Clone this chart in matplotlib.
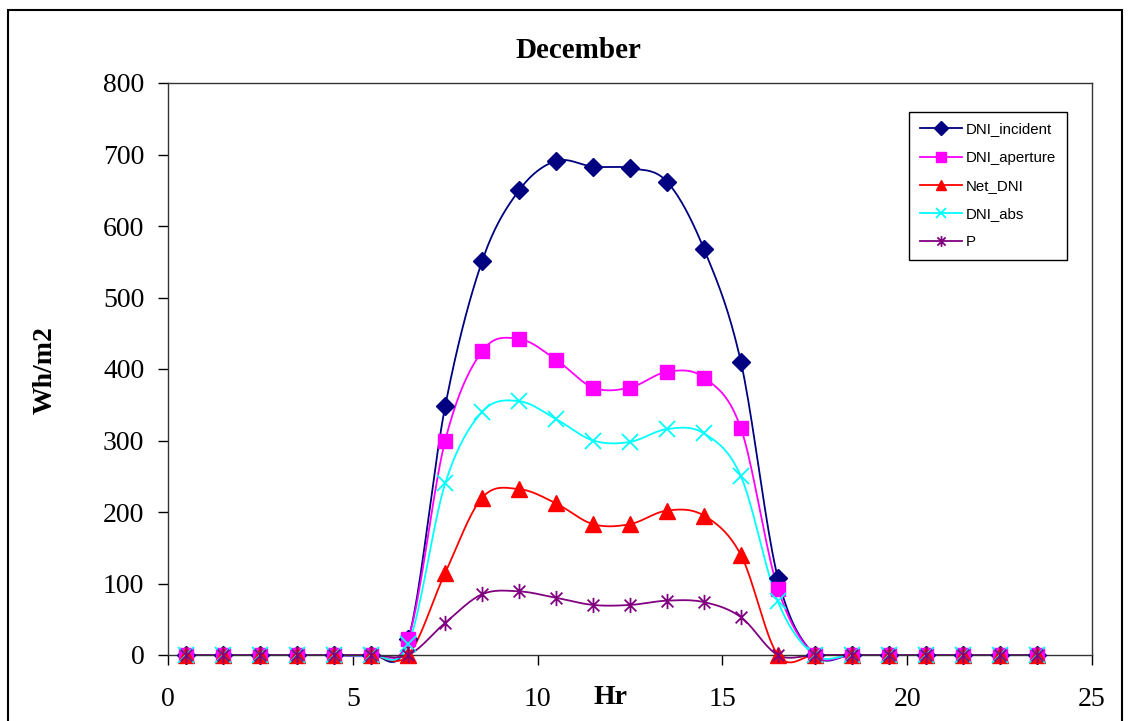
import numpy as np
import matplotlib.pyplot as plt
from matplotlib.path import Path
from matplotlib.lines import Line2D
from matplotlib.patches import Rectangle

# Hourly values (hour midpoints)
hours = np.arange(0.5, 24, 1.0)
dni_incident = [0, 0, 0, 0, 0, 0, 22, 348, 551, 650, 691, 683, 681, 662, 568, 410, 108, 0, 0, 0, 0, 0, 0, 0]
dni_aperture = [0, 0, 0, 0, 0, 0, 23, 300, 425, 442, 413, 374, 374, 396, 388, 317, 93, 0, 0, 0, 0, 0, 0, 0]
net_dni      = [0, 0, 0, 0, 0, 0, 0, 115, 220, 232, 212, 183, 183, 202, 195, 140, 0, 0, 0, 0, 0, 0, 0, 0]
dni_abs      = [0, 0, 0, 0, 0, 0, 15, 240, 340, 355, 330, 300, 298, 316, 310, 250, 75, 0, 0, 0, 0, 0, 0, 0]
p_out        = [0, 0, 0, 0, 0, 0, 0, 45, 85, 89, 80, 70, 70, 76, 74, 53, 0, 0, 0, 0, 0, 0, 0, 0]

series_names = ['DNI_incident', 'DNI_aperture', 'Net_DNI', 'DNI_abs', 'P']


def smooth(x, y, n=20):
    # Excel-like smoothed line (Catmull-Rom through every point)
    x = np.asarray(x, float)
    y = np.asarray(y, float)
    px = np.concatenate([[x[0]], x, [x[-1]]])
    py = np.concatenate([[y[0]], y, [y[-1]]])
    xs, ys = [], []
    t = np.linspace(0, 1, n, endpoint=False)
    for i in range(1, len(px) - 2):
        for arr, out in ((px, xs), (py, ys)):
            p0, p1, p2, p3 = arr[i - 1], arr[i], arr[i + 1], arr[i + 2]
            c1 = p1 + (p2 - p0) / 6
            c2 = p2 - (p3 - p1) / 6
            out.extend((1 - t) ** 3 * p1 + 3 * (1 - t) ** 2 * t * c1 + 3 * (1 - t) * t ** 2 * c2 + t ** 3 * p2)
    xs.append(x[-1])
    ys.append(y[-1])
    return np.array(xs), np.array(ys)


# asterisk marker: x plus vertical bar
star = Path([(-1, -1), (1, 1), (-1, 1), (1, -1), (0, -1.3), (0, 1.3)],
            [Path.MOVETO, Path.LINETO, Path.MOVETO, Path.LINETO, Path.MOVETO, Path.LINETO])

styles = [
    dict(color='#000080', marker='D', ms=9.5, mfc='#000080', mew=1),
    dict(color='#FF00FF', marker='s', ms=10, mfc='#FF00FF', mew=1),
    dict(color='#FF0000', marker='^', ms=11, mfc='#FF0000', mew=1),
    dict(color='#00FFFF', marker='x', ms=11, mfc='none', mew=1.3),
    dict(color='#800080', marker=star, ms=11, mfc='none', mew=1.3),
]

fig = plt.figure(figsize=(11.32, 7.21), dpi=100)
ax = fig.add_axes([168 / 1132, 66 / 721, 924 / 1132, 572 / 721])

handles = []
for name, vals, st in zip(series_names, [dni_incident, dni_aperture, net_dni, dni_abs, p_out], styles):
    sx, sy = smooth(hours, vals)
    ax.plot(sx, sy, color=st['color'], lw=1.3, clip_on=False, zorder=2)
    ax.plot(hours, vals, ls='none', marker=st['marker'], ms=st['ms'], mfc=st['mfc'],
            mec=st['color'], mew=st['mew'], clip_on=False, zorder=3)
    handles.append(Line2D([0], [0], color=st['color'], lw=1.3, marker=st['marker'],
                          ms=st['ms'] * 0.7, mfc=st['mfc'], mec=st['color'], mew=st['mew'], label=name))

ax.set_xlim(0, 25)
ax.set_ylim(0, 800)
ax.set_xticks(range(0, 26, 5))
ax.set_yticks(range(0, 801, 100))
for spine in ax.spines.values():
    spine.set_linewidth(1.0)
    spine.set_color('#333333')
ax.tick_params(axis='both', direction='out', length=7, width=1, labelsize=20, colors='black')
ax.tick_params(axis='y', pad=10)
ax.tick_params(axis='x', pad=16)
for lbl in ax.get_xticklabels() + ax.get_yticklabels():
    lbl.set_fontfamily('Liberation Serif')

fig.text(578 / 1132, 1 - 50 / 721, 'December', ha='center', va='center',
         fontsize=21, fontweight='bold', family='Liberation Serif')
fig.text(45 / 1132, 1 - 370 / 721, 'Wh/m2', ha='center', va='center', rotation=90,
         fontsize=20, fontweight='bold', family='Liberation Serif')
fig.text(610 / 1132, 1 - 697 / 721, 'Hr', ha='center', va='center',
         fontsize=20, fontweight='bold', family='Liberation Serif')

leg = ax.legend(handles=handles, loc='upper left', bbox_to_anchor=(909 / 1132, 1 - 112 / 721),
                bbox_transform=fig.transFigure, fancybox=False, framealpha=1, edgecolor='black',
                prop={'family': 'Liberation Sans', 'size': 10.8}, handlelength=2.8,
                labelspacing=0.95, borderpad=0.7, handletextpad=0.3, borderaxespad=0)
leg.get_frame().set_linewidth(1.0)

# outer chart border
fig.patches.append(Rectangle((8 / 1132, -0.05), 1114 / 1132, 1 - 10 / 721 + 0.05,
                             transform=fig.transFigure, fill=False, edgecolor='black', lw=1.5))

fig.savefig('out.png', dpi=100)
